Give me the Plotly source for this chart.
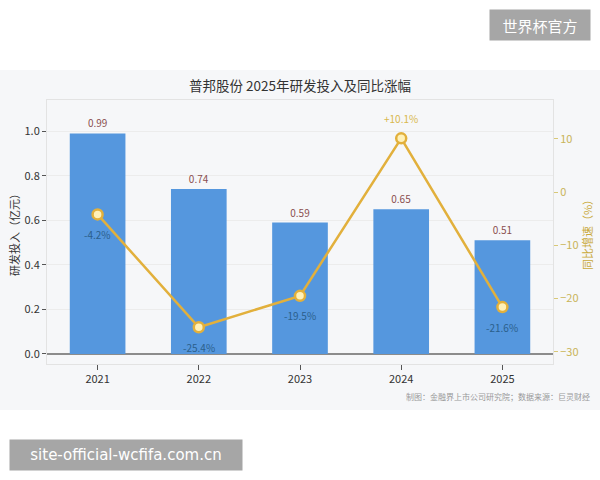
import plotly.graph_objects as go

years = ["2021", "2022", "2023", "2024", "2025"]
rd_invest = [0.99, 0.74, 0.59, 0.65, 0.51]
yoy_growth = [-4.2, -25.4, -19.5, 10.1, -21.6]
yoy_labels = ["-4.2%", "-25.4%", "-19.5%", "+10.1%", "-21.6%"]
yoy_label_above = [False, False, False, True, False]

FONT = "Noto Sans CJK SC"
BLUE_LBL = "#2b5f8c"
GOLD_LBL = "#d9b84e"

fig = go.Figure()
fig.add_trace(go.Bar(
    x=years, y=rd_invest, width=0.55,
    marker=dict(color="#5597de", line=dict(width=0)),
    text=[f"{v:.2f}" for v in rd_invest], textposition="outside",
    textfont=dict(color="#8a4f4f", size=10, family=FONT),
    cliponaxis=False, yaxis="y", showlegend=False,
))
fig.add_trace(go.Scatter(
    x=years, y=yoy_growth, yaxis="y2", mode="lines+markers",
    line=dict(color="#e2b03c", width=2.5),
    marker=dict(size=10, color="#fff1b8", line=dict(color="#e2b03c", width=2.5)),
    cliponaxis=False, showlegend=False,
))

W, H = 600, 480
L, R, T, B = 47, 47, 100, 116
pw, ph = W - L - R, H - T - B

def px(x):
    return (x - L) / pw

def py(y):
    return (H - B - y) / ph

annotations = [
    dict(text="普邦股份 2025年研发投入及同比涨幅", xref="paper", yref="paper",
         x=px(300), y=py(85), showarrow=False, xanchor="center", yanchor="middle",
         font=dict(size=13.5, color="#333333", family=FONT)),
    dict(text="制图：金融界上市公司研究院；数据来源：巨灵财经", xref="paper", yref="paper",
         x=px(592), y=py(396), showarrow=False, xanchor="right", yanchor="middle",
         font=dict(size=8, color="#999999", family=FONT)),
    dict(text="世界杯官方", xref="paper", yref="paper",
         x=px(540), y=py(25), showarrow=False, xanchor="center", yanchor="middle",
         bgcolor="#a6a6a6", borderpad=4, width=92, height=22,
         font=dict(size=15, color="white", family=FONT)),
    dict(text="site-official-wcfifa.com.cn", xref="paper", yref="paper",
         x=px(126), y=py(455), showarrow=False, xanchor="center", yanchor="middle",
         bgcolor="#a6a6a6", borderpad=4, width=224, height=22,
         font=dict(size=15, color="white", family="DejaVu Sans")),
]
for i, (v, lbl, above) in enumerate(zip(yoy_growth, yoy_labels, yoy_label_above)):
    annotations.append(dict(
        text=lbl, x=i, y=v, xref="x", yref="y2", showarrow=False,
        yshift=20 if above else -20, xanchor="center", yanchor="middle",
        font=dict(size=10, color=GOLD_LBL if above else BLUE_LBL, family=FONT),
    ))

fig.update_layout(
    width=W, height=H,
    margin=dict(l=L, r=R, t=T, b=B, autoexpand=False),
    paper_bgcolor="white", plot_bgcolor="white",
    font=dict(family=FONT, color="#333333", size=11),
    xaxis=dict(
        type="category", range=[-0.5, 4.5], showgrid=False, ticks="outside", ticklen=5,
        tickcolor="#555555", tickfont=dict(size=11, color="#333333"),
        showline=True, linecolor="#e3e3e3", mirror=True, zeroline=False,
        automargin=False,
    ),
    yaxis=dict(
        range=[-0.045, 1.14], tickvals=[0, 0.2, 0.4, 0.6, 0.8, 1.0],
        ticktext=["0.0", "0.2", "0.4", "0.6", "0.8", "1.0"],
        ticks="outside", ticklen=4, tickcolor="#555555",
        tickfont=dict(size=11, color="#333333"),
        showgrid=True, gridcolor="#ececec", gridwidth=1,
        zeroline=True, zerolinecolor="#8c8c8c", zerolinewidth=1.5,
        showline=True, linecolor="#e3e3e3", mirror=False, automargin=False,
        title=dict(text="研发投入（亿元）", font=dict(size=11, color="#333333"), standoff=2),
    ),
    yaxis2=dict(
        overlaying="y", side="right", range=[-32.3, 17.3],
        tickvals=[-30, -20, -10, 0, 10],
        ticks="outside", ticklen=4, tickcolor="#d8c878",
        tickfont=dict(size=11, color="#c9b458"),
        showgrid=False, zeroline=False, automargin=False,
        showline=True, linecolor="#e3e3e3",
        title=dict(text="同比增速（%）", font=dict(size=11, color="#c9a93a"), standoff=3),
    ),
    shapes=[
        dict(type="rect", xref="paper", yref="paper", layer="below",
             x0=px(0), x1=px(600), y0=py(410), y1=py(70),
             fillcolor="#f6f7f9", line=dict(width=0)),
    ],
    annotations=annotations,
)

fig.write_html("out.html", config={"displayModeBar": False},
               post_script="document.body.style.margin='0';document.body.style.overflow='hidden';")
